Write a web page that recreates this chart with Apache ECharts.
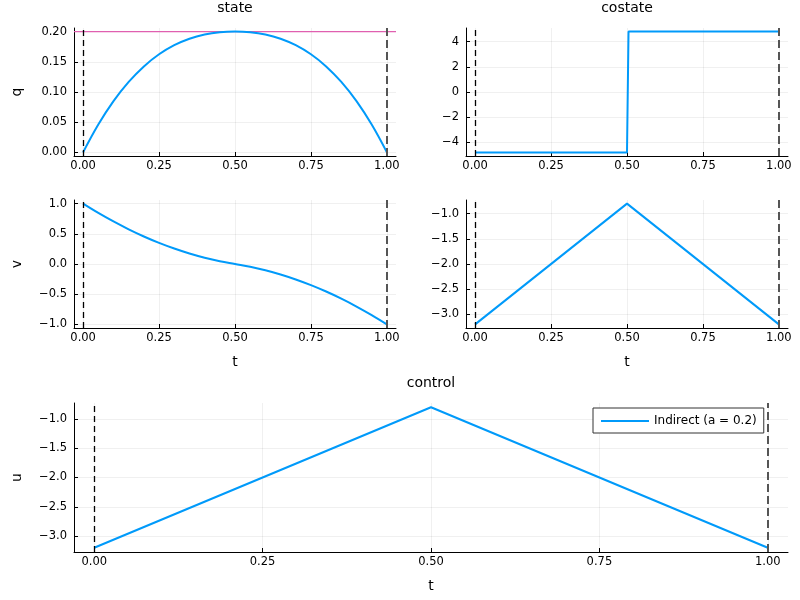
<!DOCTYPE html>
<html>
<head>
<meta charset="utf-8">
<script src="https://cdn.jsdelivr.net/npm/echarts@6/dist/echarts.min.js"></script>
<style>
  html, body { margin: 0; padding: 0; background: #fff; }
  #main { width: 800px; height: 600px; }
</style>
</head>
<body>
<div id="main"></div>
<script>
// time grid and states
var tGrid = [0, 0.05, 0.1, 0.15, 0.2, 0.25, 0.3, 0.35, 0.4, 0.45, 0.5,
             0.55, 0.6, 0.65, 0.7, 0.75, 0.8, 0.85, 0.9, 0.95, 1];
var qVals = [0, 0.0461, 0.0848, 0.1167, 0.1424, 0.1625, 0.1776, 0.1883, 0.1952, 0.1989, 0.2,
             0.1989, 0.1952, 0.1883, 0.1776, 0.1625, 0.1424, 0.1167, 0.0848, 0.0461, 0];
var vVals = [1, 0.846, 0.704, 0.574, 0.456, 0.35, 0.256, 0.174, 0.104, 0.046, 0,
             -0.046, -0.104, -0.174, -0.256, -0.35, -0.456, -0.574, -0.704, -0.846, -1];
// costates
var pTimes = [0, 0.5, 0.505, 1];
var pVals = [-4.8, -4.8, 4.8, 4.8];
var lamTimes = [0, 0.5, 1];
var lamVals = [-3.2, -0.8, -3.2];
// control
var uTimes = [0, 0.5, 1];
var uVals = [-3.2, -0.8, -3.2];
var qMax = 0.2;
var seriesName = 'Indirect (a = 0.2)';

// tick labels
var tTicks = [0, 0.25, 0.5, 0.75, 1];
var qTicks = [0, 0.05, 0.1, 0.15, 0.2];
var pTicks = [-4, -2, 0, 2, 4];
var vTicks = [-1, -0.5, 0, 0.5, 1];
var lamTicks = [-3, -2.5, -2, -1.5, -1];

var tMin = -0.03, tMax = 1.03;
var blue = '#009AFA';
var pink = '#e060b0';
var font = 'DejaVu Sans';

function pairs(xs, ys) {
  return xs.map(function (x, i) { return [x, ys[i]]; });
}
function fmt(d) {
  return function (v) { return Number(v).toFixed(d).replace('-', '\u2212'); };
}

function xAxisFor(idx, showName) {
  return {
    type: 'value', gridIndex: idx, min: tMin, max: tMax,
    position: 'bottom',
    name: showName ? 't' : '', nameLocation: 'middle', nameGap: 27,
    nameTextStyle: { fontFamily: font, fontSize: 14, color: '#000' },
    axisLine: { onZero: false, lineStyle: { color: '#000', width: 1 } },
    axisTick: { inside: true, length: 4, customValues: tTicks, lineStyle: { color: '#000' } },
    axisLabel: { customValues: tTicks, formatter: fmt(2), margin: 4,
                 fontFamily: font, fontSize: 11.5, color: '#000' },
    splitLine: { show: true, lineStyle: { color: 'rgba(0,0,0,0.1)', width: 0.6 } }
  };
}
function yAxisFor(idx, lo, hi, ticks, dec, name) {
  return {
    type: 'value', gridIndex: idx, min: lo, max: hi,
    name: name, nameLocation: 'middle', nameGap: 50, nameRotate: 90,
    nameTextStyle: { fontFamily: font, fontSize: 14, color: '#000' },
    axisLine: { show: true, onZero: false, lineStyle: { color: '#000', width: 1 } },
    axisTick: { show: true, inside: true, length: 4, customValues: ticks, lineStyle: { color: '#000' } },
    axisLabel: { customValues: ticks, formatter: fmt(dec), margin: 7,
                 fontFamily: font, fontSize: 11.5, color: '#000' },
    splitLine: { show: true, lineStyle: { color: 'rgba(0,0,0,0.1)', width: 0.6 } }
  };
}

var bounds = [
  { xAxis: 0, lineStyle: { color: '#000', type: [6, 4], width: 1.3 } },
  { xAxis: 1, lineStyle: { color: '#555', type: [8, 4], width: 2 } }
];

function lineSeries(idx, data, name, extra) {
  var s = {
    type: 'line', name: name, xAxisIndex: idx, yAxisIndex: idx,
    data: data, showSymbol: false, symbol: 'none',
    lineStyle: { color: blue, width: 2 }, itemStyle: { color: blue },
    markLine: { silent: true, symbol: 'none', label: { show: false }, data: bounds },
    z: 3
  };
  for (var k in extra) s[k] = extra[k];
  return s;
}

var titleStyle = { fontFamily: font, fontSize: 14, fontWeight: 'normal', color: '#000' };
function gridAt(l, t, w, h) {
  return { left: l, top: t, width: w, height: h, outerBoundsMode: 'none', containLabel: false };
}

var chart = echarts.init(document.getElementById('main'));
chart.setOption({
  animation: false,
  backgroundColor: '#fff',
  title: [
    { text: 'state', left: 235, top: 1, padding: 0, textAlign: 'center', textStyle: titleStyle },
    { text: 'costate', left: 627, top: 1, padding: 0, textAlign: 'center', textStyle: titleStyle },
    { text: 'control', left: 431, top: 376, padding: 0, textAlign: 'center', textStyle: titleStyle }
  ],
  legend: {
    data: [seriesName], left: 593, top: 408,
    backgroundColor: '#fff', borderColor: '#333', borderWidth: 1,
    padding: [7, 7, 6, 8], icon: 'rect', itemWidth: 48, itemHeight: 2,
    textStyle: { fontFamily: font, fontSize: 12, color: '#000' }
  },
  grid: [
    gridAt(74, 28, 322, 128),
    gridAt(466, 28, 322, 128),
    gridAt(74, 200, 322, 128),
    gridAt(466, 200, 322, 128),
    gridAt(74, 403, 714, 149)
  ],
  xAxis: [xAxisFor(0, false), xAxisFor(1, false), xAxisFor(2, true), xAxisFor(3, true), xAxisFor(4, true)],
  yAxis: [
    yAxisFor(0, -0.006, 0.206, qTicks, 2, 'q'),
    yAxisFor(1, -5.088, 5.088, pTicks, 0, ''),
    yAxisFor(2, -1.06, 1.06, vTicks, 1, 'v'),
    yAxisFor(3, -3.272, -0.728, lamTicks, 1, ''),
    yAxisFor(4, -3.272, -0.728, lamTicks, 1, 'u')
  ],
  series: [
    // state constraint q <= a across the whole panel
    {
      type: 'line', name: 'bound', xAxisIndex: 0, yAxisIndex: 0,
      data: [[tMin, qMax], [tMax, qMax]], z: 2,
      showSymbol: false, symbol: 'none',
      lineStyle: { color: pink, width: 1.2 }, itemStyle: { color: pink }
    },
    lineSeries(0, pairs(tGrid, qVals), 'q', { smooth: 0.4 }),
    lineSeries(1, pairs(pTimes, pVals), 'p', {}),
    lineSeries(2, pairs(tGrid, vVals), 'v', { smooth: 0.4 }),
    lineSeries(3, pairs(lamTimes, lamVals), 'lambda', {}),
    lineSeries(4, pairs(uTimes, uVals), seriesName, {})
  ]
});
</script>
</body>
</html>
